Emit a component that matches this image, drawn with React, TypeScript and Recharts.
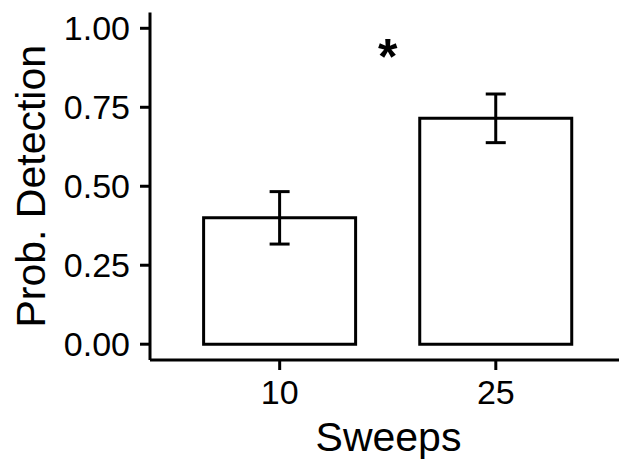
import React from 'react';
import { BarChart, Bar, XAxis, YAxis, ErrorBar, ReferenceDot } from 'recharts';

const categories = ['10', '25'];
const xPositions = [1, 2];
const probDetection = [0.4, 0.715];
const errors = [0.083, 0.077];
const yTicks = [0, 0.25, 0.5, 0.75, 1];
const significanceLabel = '*';
const significanceY = 1.0;

const data = categories.map((c, i) => ({
  x: xPositions[i],
  label: c,
  value: probDetection[i],
  err: errors[i],
}));

const FONT = '"Liberation Sans", Arial, sans-serif';
const INK = '#000000';

const YTitle = (props: any) => {
  const vb = props.viewBox || {};
  const cx = vb.x + 45;
  const cy = vb.y + vb.height / 2;
  return (
    <text
      x={cx}
      y={cy}
      transform={`rotate(-90, ${cx}, ${cy})`}
      textAnchor="middle"
      fontSize={41}
      fontFamily={FONT}
      fill={INK}
    >
      Prob. Detection
    </text>
  );
};

const XTitle = (props: any) => {
  const vb = props.viewBox || {};
  const cx = vb.x + vb.width / 2 + 4;
  return (
    <text x={cx} y={451} textAnchor="middle" fontSize={41} fontFamily={FONT} fill={INK}>
      Sweeps
    </text>
  );
};

const Star = (props: any) => {
  const vb = props.viewBox || {};
  const cx = vb.x + (vb.width || 0) / 2;
  const cy = vb.y + (vb.height || 0) / 2;
  return (
    <text x={cx} y={cy + 46} textAnchor="middle" fontSize={50} fontWeight="bold" fontFamily={FONT} fill={INK}>
      {significanceLabel}
    </text>
  );
};

export default function App() {
  return (
    <div style={{ position: 'absolute', left: 0, top: 0, width: 619, height: 461, background: '#fff' }}>
      <BarChart
        width={619}
        height={461}
        data={data}
        margin={{ top: 12.5, right: 0, bottom: 0, left: 0 }}
      >
        <XAxis
          dataKey="x"
          type="number"
          domain={[0.4, 2.57]}
          allowDataOverflow
          ticks={xPositions}
          tickFormatter={(v: number) => categories[xPositions.indexOf(v)] ?? ''}
          height={101}
          tickSize={10}
          tickMargin={10}
          axisLine={{ stroke: INK, strokeWidth: 3 }}
          tickLine={{ stroke: INK, strokeWidth: 3 }}
          tick={{ fontSize: 34, fill: INK, fontFamily: FONT }}
          label={{ content: XTitle }}
        />
        <YAxis
          type="number"
          domain={[-0.05, 1.05]}
          allowDataOverflow
          ticks={yTicks}
          tickFormatter={(v: number) => v.toFixed(2)}
          width={150}
          tickSize={10}
          tickMargin={10}
          axisLine={{ stroke: INK, strokeWidth: 3 }}
          tickLine={{ stroke: INK, strokeWidth: 3 }}
          tick={{ fontSize: 34, fill: INK, fontFamily: FONT }}
          label={{ content: YTitle }}
        />
        <Bar
          dataKey="value"
          barSize={152}
          fill="#ffffff"
          stroke={INK}
          strokeWidth={3}
          isAnimationActive={false}
        >
          <ErrorBar dataKey="err" width={10} stroke={INK} strokeWidth={3} direction="y" />
        </Bar>
        <ReferenceDot
          x={(xPositions[0] + xPositions[1]) / 2}
          y={significanceY}
          r={0}
          fill="none"
          stroke="none"
          label={{ content: Star }}
        />
      </BarChart>
    </div>
  );
}
